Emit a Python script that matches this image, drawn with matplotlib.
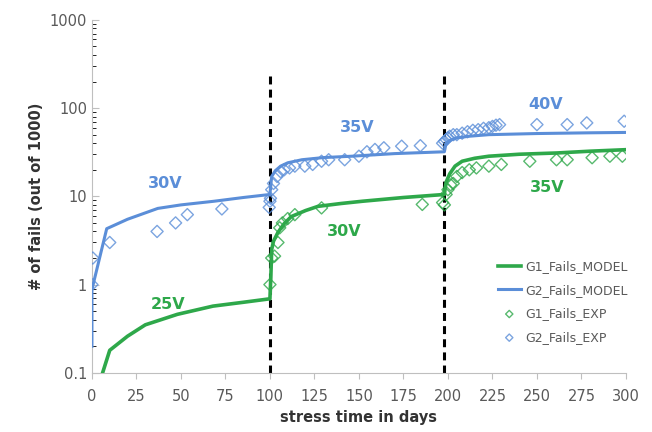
import matplotlib.pyplot as plt

# model curves
g1_model_days = [6, 10, 20, 30, 48, 68, 85, 100, 100.5, 101, 102, 104.5, 108, 112, 120, 127, 140, 152, 175, 198,
                 198.5, 199, 201, 204, 208, 215, 223, 240, 261, 280, 300]
g1_model_vals = [0.1, 0.18, 0.26, 0.35, 0.46, 0.57, 0.63, 0.69, 1.2, 2.5, 3.1, 3.9, 4.9, 5.9, 6.9, 7.7, 8.3, 8.8, 9.7, 10.5,
                 12.5, 14.5, 18, 22, 25, 27, 28.5, 30, 31, 32.5, 33.8]

g2_model_days = [0, 0, 8.3, 20, 37, 50, 68.6, 85, 100, 100.5, 101, 103, 106, 110, 118, 130, 146, 170, 198,
                 198.5, 199, 201, 205, 212, 223, 250, 280, 300]
g2_model_vals = [0.2, 0.88, 4.3, 5.5, 7.3, 8.0, 8.8, 9.7, 10.5, 13.5, 16.8, 19.5, 22, 24, 26, 27.5, 28.5, 30.5, 32,
                 36, 40, 43, 46, 48, 50, 51.5, 52.5, 53]

# experimental points
g1_exp_days = [100, 101, 102.6, 104.5, 105.5, 107, 110, 114, 129, 185.6, 197, 198, 199, 200, 201.5, 203, 205, 208,
               212, 216, 223, 230, 246, 261, 267, 281, 291, 298]
g1_exp_vals = [1.0, 2.0, 2.1, 3.0, 4.4, 5.0, 5.6, 6.2, 7.4, 8.1, 8.5, 8.0, 10.5, 11.9, 13.5, 14, 16.8, 18.6,
               20, 21, 22, 23, 25, 26, 26, 27.4, 28.5, 28.5]

g2_exp_days = [0, 0.5, 10, 36.6, 47, 53.6, 73, 99.6, 100, 100.3, 101, 102, 104, 106, 108, 111, 114, 119.6, 124, 129,
               133, 142, 150, 154.5, 159, 164, 174, 184.5, 197, 198, 199, 200, 201, 203, 205, 208, 211, 214, 217,
               220, 223, 225, 227, 229, 250, 267, 278, 299]
g2_exp_vals = [1.0, 2.0, 3.0, 4.0, 5.0, 6.2, 7.2, 7.5, 8.8, 9.5, 11.9, 14, 16.8, 19, 20, 21, 22, 22, 23, 25,
               26, 26, 28.5, 32, 34, 35.5, 37, 37.5, 40, 42, 44, 46, 48, 50, 50, 52, 54, 56, 57,
               59, 60, 62, 64, 65, 65, 65, 68, 71]

stress_changes = [100, 198]
x_ticks = [0, 25, 50, 75, 100, 125, 150, 175, 200, 225, 250, 275, 300]

green = '#2ea84a'
blue = '#5b8ed8'
grey = '#595959'

fig = plt.figure(figsize=(6.52, 4.32), dpi=100)
ax = fig.add_axes([0.141, 0.137, 0.819, 0.817])

ax.plot(g1_model_days, g1_model_vals, color=green, lw=2.6, label='G1_Fails_MODEL', zorder=3)
ax.plot(g2_model_days, g2_model_vals, color=blue, lw=2.2, label='G2_Fails_MODEL', zorder=3)
ax.scatter(g1_exp_days, g1_exp_vals, marker='D', s=38, facecolors='none', edgecolors=green, linewidths=1.0,
           alpha=0.8, label='G1_Fails_EXP', zorder=4)
ax.scatter(g2_exp_days, g2_exp_vals, marker='D', s=38, facecolors='none', edgecolors=blue, linewidths=1.0,
           alpha=0.8, label='G2_Fails_EXP', zorder=4)

for d in stress_changes:
    ax.plot([d, d], [0.1, 255], color='black', lw=2.2, ls=(0, (2.6, 1.7)), zorder=2)

ax.set_yscale('log')
ax.set_ylim(0.1, 1000)
ax.set_xlim(0, 300)
ax.set_xticks(x_ticks)
ax.set_yticks([0.1, 1, 10, 100, 1000])
ax.set_yticklabels(['0.1', '1', '10', '100', '1000'])

for s in ['top', 'right']:
    ax.spines[s].set_visible(False)
for s in ['left', 'bottom']:
    ax.spines[s].set_color('#bfbfbf')
ax.tick_params(axis='both', colors='#bfbfbf', labelcolor=grey, labelsize=10.5)
ax.tick_params(axis='x', length=4, pad=8)
ax.tick_params(axis='y', which='major', length=5, direction='in')
ax.tick_params(axis='y', which='minor', length=3, direction='in')

ax.set_xlabel('stress time in days', fontsize=10.5, fontweight='bold', color='#333333')
ax.set_ylabel('# of fails (out of 1000)', fontsize=10.5, fontweight='bold', color='#333333')

labels = [(41, 14, '30V', blue), (43, 0.6, '25V', green), (149, 60, '35V', blue),
          (142, 4, '30V', green), (255, 110, '40V', blue), (256, 12.7, '35V', green)]
for x, y, t, c in labels:
    ax.text(x, y, t, color=c, fontsize=11.5, fontweight='bold', ha='center', va='center')

leg = ax.legend(loc='lower right', bbox_to_anchor=(1.025, 0.05), frameon=False, fontsize=9,
                handlelength=1.8, labelspacing=0.85, handletextpad=0.4, markerscale=0.6)
for txt in leg.get_texts():
    txt.set_color(grey)

fig.savefig('out.png', dpi=100)
